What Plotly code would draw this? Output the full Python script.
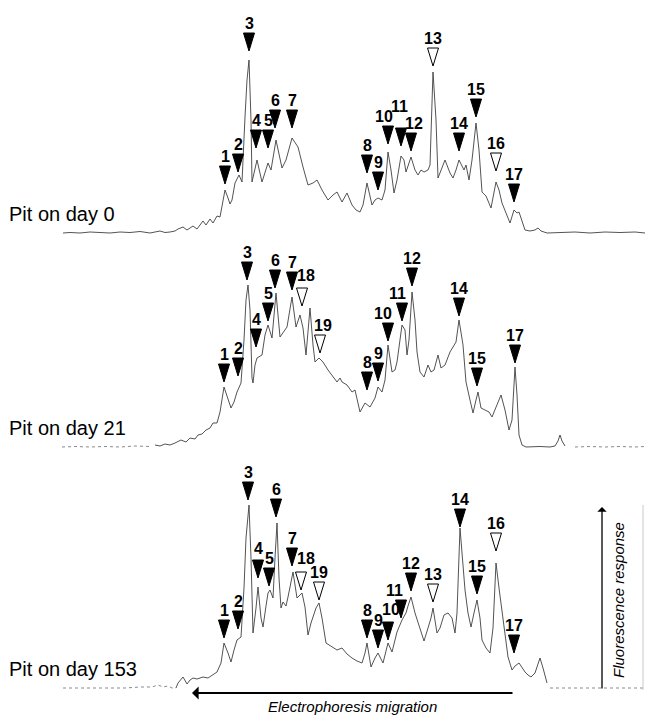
import plotly.graph_objects as go

W, H = 645, 715

panel_names = ["Pit on day 0", "Pit on day 21", "Pit on day 153"]

# ---- electropherogram traces: (migration position, fluorescence) ----
day0_trace = [
    (63, 0), (70, 0.5), (80, 0), (90, 1), (100, 0.5), (110, 0), (120, 1), (130, 0.5),
    (140, 1.5), (150, 0), (160, 2), (165, 0.5), (170, 1), (175, 2), (178, 4), (183, 6),
    (187, 3), (193, 7), (197, 4), (203, 12), (206, 8), (210, 14), (213, 10), (217, 17),
    (220, 16), (222, 26), (225, 43), (228, 35), (230, 29), (232, 33), (235, 50), (239, 58),
    (242, 51), (245, 116), (247, 153), (249, 173), (251, 113), (252, 51), (257, 73), (262, 51),
    (266, 63), (268, 70), (271, 63), (276, 93), (282, 65), (286, 73), (292, 95), (298, 86),
    (303, 66), (308, 48), (313, 50), (317, 53), (322, 43), (328, 33), (333, 38), (337, 41),
    (342, 31), (347, 40), (352, 28), (356, 23), (360, 21), (363, 28), (367, 50), (372, 28),
    (375, 33), (378, 35), (382, 33), (385, 43), (388, 81), (391, 63), (394, 40), (397, 53),
    (401, 77), (404, 73), (406, 61), (408, 68), (411, 76), (415, 63), (418, 58), (421, 63),
    (424, 61), (428, 63), (430, 68), (433, 161), (436, 113), (438, 55), (441, 63), (445, 73),
    (450, 60), (453, 55), (456, 63), (459, 73), (462, 67), (464, 63), (466, 68), (469, 53),
    (472, 73), (476, 110), (479, 83), (482, 41), (486, 37), (491, 25), (496, 51), (499, 43),
    (502, 30), (506, 20), (510, 10), (514, 23), (517, 20), (519, 21), (522, 11), (525, 3),
    (530, 2), (535, 3), (538, 5), (541, 2), (547, 0), (560, 0.5), (575, 1), (590, 0),
    (605, 1), (620, 0.5), (635, 1), (645, 0),
]

day21_trace = [
    (62, 0), (75, 0.5), (90, 0), (105, 0.5), (120, 0), (135, 1), (150, 0.5), (155, 2),
    (160, 1), (165, 3), (170, 2), (175, 4), (181, 7), (186, 5), (190, 9), (195, 8),
    (198, 12), (202, 13), (206, 17), (210, 19), (213, 24), (217, 24), (220, 35), (224, 60),
    (228, 47), (231, 39), (234, 45), (237, 55), (241, 64), (244, 107), (246, 147), (248, 162),
    (250, 137), (252, 69), (253, 64), (255, 82), (257, 89), (262, 92), (265, 112), (268, 122),
    (272, 109), (276, 154), (280, 110), (283, 114), (287, 120), (292, 150), (296, 120), (300, 132),
    (303, 119), (306, 92), (310, 139), (313, 102), (315, 85), (319, 89), (323, 85), (328, 77),
    (333, 70), (337, 65), (340, 69), (342, 65), (347, 62), (352, 55), (355, 57), (360, 35),
    (365, 44), (370, 40), (375, 49), (378, 60), (382, 55), (385, 67), (388, 102), (392, 75),
    (395, 77), (397, 85), (402, 122), (405, 117), (407, 92), (409, 107), (412, 155), (415, 127),
    (417, 95), (420, 75), (424, 70), (428, 82), (431, 75), (434, 77), (438, 92), (441, 79),
    (445, 82), (450, 95), (456, 105), (459, 127), (463, 102), (466, 65), (470, 47), (473, 34),
    (476, 47), (478, 55), (481, 39), (485, 37), (489, 35), (492, 30), (496, 39), (501, 52),
    (505, 37), (509, 17), (512, 27), (515, 80), (517, 52), (519, 12), (522, 2), (526, 0),
    (540, 0.5), (550, 0), (555, 1), (558, 6), (560, 12), (562, 6), (565, 1), (575, 0),
    (590, 0.5), (605, 0), (620, 0.5), (635, 0), (645, 0.5),
]

day153_trace = [
    (63, 0), (70, 0), (80, 0.5), (95, 0), (110, 0.5), (125, 0), (140, 1), (152, 1),
    (158, 3), (163, 1), (168, 2), (172, 0), (176, 0), (178, 5), (183, 11), (187, 4),
    (190, 8), (193, 10), (197, 9), (203, 11), (208, 10), (213, 13), (217, 16), (221, 25),
    (224, 45), (228, 35), (231, 26), (234, 38), (237, 48), (241, 51), (244, 100), (246, 150),
    (249, 183), (251, 130), (253, 55), (256, 80), (258, 101), (261, 70), (263, 61), (266, 82),
    (268, 95), (270, 98), (273, 90), (275, 130), (277, 165), (279, 110), (281, 80), (283, 86),
    (286, 82), (288, 91), (293, 116), (297, 90), (302, 95), (305, 81), (308, 53), (311, 65),
    (313, 71), (316, 80), (319, 85), (322, 70), (326, 45), (332, 41), (337, 38), (342, 40),
    (347, 34), (352, 30), (357, 27), (362, 25), (365, 35), (367, 45), (371, 21), (375, 30),
    (378, 35), (383, 25), (386, 38), (388, 45), (392, 36), (395, 50), (397, 56), (402, 68),
    (406, 75), (408, 82), (411, 91), (415, 75), (420, 58), (424, 47), (428, 60), (431, 70),
    (433, 80), (435, 65), (437, 55), (440, 60), (444, 73), (448, 75), (452, 70), (455, 55),
    (457, 75), (460, 160), (463, 120), (465, 98), (468, 75), (471, 61), (474, 75), (477, 88),
    (480, 70), (482, 48), (486, 40), (490, 35), (493, 60), (496, 125), (499, 100), (502, 78),
    (505, 55), (508, 31), (512, 18), (515, 22), (519, 25), (522, 20), (525, 16), (528, 13),
    (531, 11), (535, 15), (540, 30), (543, 20), (547, 5), (550, 0), (560, 0), (575, 0.5),
    (590, 0), (605, 0.5), (620, 0), (635, 0.5), (645, 0),
]

# ---- numbered band arrows ----
day0_bands = ["1", "2", "3", "4", "5", "6", "7", "8", "9", "10", "11", "12", "13", "14", "15", "16", "17"]
day0_band_x = [225, 238, 249, 256, 268, 275, 292, 367, 378, 388, 401, 411, 433, 459, 476, 496, 514]
day0_arrow_h = [58, 70, 191, 94, 94, 114, 114, 69, 52, 98, 96, 91, 176, 91, 125, 71, 40]
day0_open = ["13", "16"]

day21_bands = ["1", "2", "3", "4", "5", "6", "7", "18", "19", "8", "9", "10", "11", "12", "14", "15", "17"]
day21_band_x = [224, 238, 247, 256, 268, 275, 292, 302, 320, 367, 378, 388, 402, 412, 459, 477, 515]
day21_arrow_h = [74, 80, 176, 109, 135, 168, 166, 150, 103, 66, 75, 115, 135, 170, 140, 70, 93]
day21_open = ["18", "19"]

day153_bands = ["1", "2", "3", "4", "5", "6", "7", "18", "19", "8", "9", "10", "11", "12", "13", "14", "15", "16", "17"]
day153_band_x = [224, 238, 248, 258, 269, 276, 292, 301, 319, 367, 378, 388, 401, 411, 433, 460, 477, 496, 514]
day153_arrow_h = [59, 68, 197, 119, 111, 180, 131, 107, 97, 59, 49, 57, 79, 106, 95, 170, 103, 146, 44]
day153_open = ["18", "19", "13", "16"]

# ---------------- styling / layout ----------------
FONT = "Liberation Sans, Arial, Helvetica, sans-serif"
LINE_COLOR = "#404040"
FAINT_COLOR = "#8a8a8a"
TRI_HW, TRI_HH = 5.5, 9        # triangle half width / half height (px units)
LABEL_GAP = 19
PAD = 4
frames = [(0, 233), (233, 447), (447, 688)]   # (top, baseline) in page pixels
faint_edges = [(None, None), (152, 566), (176, 549)]  # dotted baseline outside these
label_nudges = [
    {"10": (-4, 0), "11": (-2, 12), "12": (3, 0)},
    {"18": (4, 3), "19": (3, 0), "10": (-5, 0), "11": (-5, 0)},
    {"18": (5, 4), "10": (3, 3), "11": (-7, 0), "4": (0, 2)},
]

panels = [
    (day0_trace, day0_bands, day0_band_x, day0_arrow_h, day0_open),
    (day21_trace, day21_bands, day21_band_x, day21_arrow_h, day21_open),
    (day153_trace, day153_bands, day153_band_x, day153_arrow_h, day153_open),
]

fig = go.Figure()
annotations = []
layout_axes = {}


def add_line(pts, yref, color, width, dash):
    if len(pts) < 2:
        return
    xs, ys = zip(*pts)
    fig.add_trace(go.Scatter(
        x=list(xs), y=list(ys), mode="lines", yaxis=yref, xaxis="x",
        line=dict(color=color, width=width, dash=dash), hoverinfo="skip", showlegend=False,
    ))


for i, (trace, bands, bx, bh, opened) in enumerate(panels):
    yref = "y" if i == 0 else f"y{i + 1}"
    ykey = "yaxis" if i == 0 else f"yaxis{i + 1}"
    top, base = frames[i]
    layout_axes[ykey] = dict(
        domain=[1 - (base + PAD) / H, 1 - top / H],
        range=[-PAD, base - top],
        visible=False, fixedrange=True, anchor="x",
    )
    lo, hi = faint_edges[i]
    if lo is None:
        add_line(trace, yref, LINE_COLOR, 0.9, "solid")
    else:
        add_line([p for p in trace if p[0] <= lo], yref, FAINT_COLOR, 1, "dot")
        add_line([p for p in trace if lo <= p[0] <= hi], yref, LINE_COLOR, 0.9, "solid")
        add_line([p for p in trace if p[0] >= hi], yref, FAINT_COLOR, 1, "dot")
    for hollow in (False, True):
        tx, ty = [], []
        for lab, x, h in zip(bands, bx, bh):
            if (lab in opened) != hollow:
                continue
            tx += [x - TRI_HW, x + TRI_HW, x, x - TRI_HW, None]
            ty += [h + TRI_HH, h + TRI_HH, h - TRI_HH, h + TRI_HH, None]
        if tx:
            fig.add_trace(go.Scatter(
                x=tx, y=ty, mode="lines", fill="toself", yaxis=yref, xaxis="x",
                fillcolor="white" if hollow else "black",
                line=dict(color="black", width=1), hoverinfo="skip", showlegend=False,
            ))
    for lab, x, h in zip(bands, bx, bh):
        dx, dy = label_nudges[i].get(lab, (0, 0))
        annotations.append(dict(
            x=x + dx, y=h + LABEL_GAP + dy, xref="x", yref=yref, text=f"<b>{lab}</b>",
            showarrow=False, xanchor="center", yanchor="middle",
            font=dict(family=FONT, size=16, color="black"),
        ))
    annotations.append(dict(
        x=7 / W, y=19, xref="paper", yref=yref, text=panel_names[i],
        showarrow=False, xanchor="left", yanchor="middle",
        font=dict(family=FONT, size=20, color="black"),
    ))

# axis direction arrows
annotations.append(dict(
    x=192 / W, y=1 - 693 / H, xref="paper", yref="paper", ax=322, ay=0,
    showarrow=True, arrowhead=1, arrowsize=1.1, arrowwidth=2, arrowcolor="black", text="",
))
annotations.append(dict(
    x=353 / W, y=1 - 706 / H, xref="paper", yref="paper", showarrow=False,
    text="<i>Electrophoresis migration</i>", xanchor="center", yanchor="middle",
    font=dict(family=FONT, size=15, color="black"),
))
annotations.append(dict(
    x=602 / W, y=1 - 507 / H, xref="paper", yref="paper", ax=0, ay=183,
    showarrow=True, arrowhead=1, arrowsize=1.2, arrowwidth=1.3, arrowcolor="black", text="",
))
annotations.append(dict(
    x=618 / W, y=1 - 600 / H, xref="paper", yref="paper", showarrow=False,
    text="<i>Fluorescence response</i>", textangle=-90, xanchor="center", yanchor="middle",
    font=dict(family=FONT, size=15, color="black"),
))

fig.update_layout(
    width=W, height=H, margin=dict(l=0, r=0, t=0, b=0),
    paper_bgcolor="white", plot_bgcolor="rgba(0,0,0,0)",
    xaxis=dict(range=[0, W], domain=[0, 1], visible=False, fixedrange=True),
    annotations=annotations,
    shapes=[dict(type="line", xref="paper", yref="paper", x0=643 / W, x1=643 / W,
                 y0=1 - 690 / H, y1=1 - 505 / H, line=dict(color="#c8c8c8", width=1))],
    **layout_axes,
)

fig.write_html(
    "out.html",
    config={"displayModeBar": False},
    post_script="document.body.style.margin='0';document.body.style.overflow='hidden';",
)
